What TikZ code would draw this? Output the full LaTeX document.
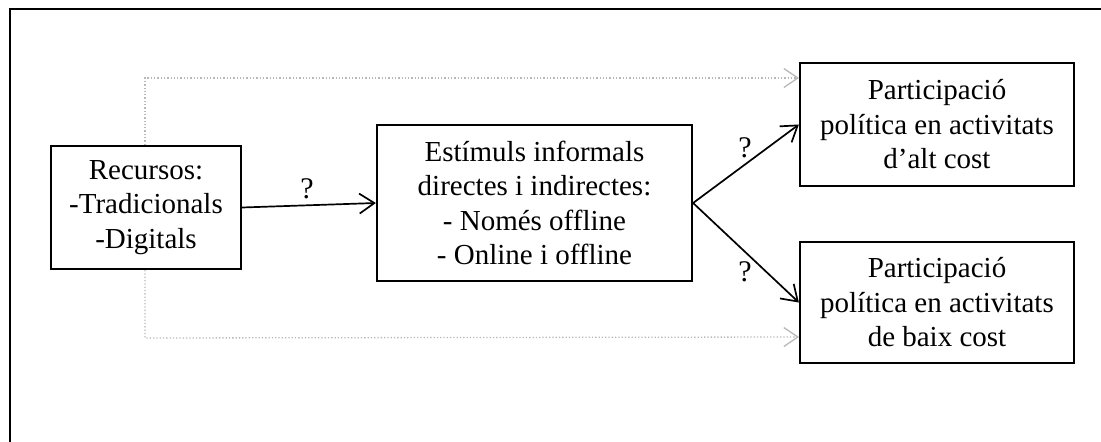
\documentclass[tikz,border=0pt]{standalone}
\usepackage{fontspec}
\setmainfont{Liberation Serif}
\usetikzlibrary{arrows.meta}
\begin{document}
\begin{tikzpicture}[x=1pt,y=-1pt,
  box/.style={draw=black,line width=2.2pt,inner sep=0pt,align=center,
    font=\fontsize{29}{34.5}\selectfont},
  lbl/.style={font=\fontsize{30}{34}\selectfont,inner sep=0pt},
  arr/.style={line width=1.7pt,-{Straight Barb[length=15pt,width=20pt,line width=1.7pt]}},
  gray arr/.style={draw=black!28,line width=1.3pt,dotted,
    -{Straight Barb[length=14pt,width=19pt,line width=1.3pt,sep=0pt]}}
]
\useasboundingbox (0,0) rectangle (1101,442);
\coordinate (fbl) at (10,443);
\coordinate (ftl) at (10,9);
\coordinate (ftr) at (1102,9);
\draw[line width=2.4pt] (fbl) -- (ftl) -- (ftr);

\node[box,minimum width=190pt,minimum height=123pt] (rec) at (146,207.5)
  {Recursos:\\-Tradicionals\\-Digitals};
\node[box,minimum width=315pt,minimum height=156pt] (est) at (534.5,203)
  {Estímuls informals\\directes i indirectes:\\- Només offline\\- Online i offline};
\node[box,minimum width=274pt,minimum height=123pt] (alt) at (937,124.5)
  {Participació\\política en activitats\\d’alt cost};
\node[box,minimum width=274pt,minimum height=121pt] (baix) at (937,302.5)
  {Participació\\política en activitats\\de baix cost};

\coordinate (gtl) at (145,78);
\coordinate (gbl) at (145,338);
\coordinate (gte) at (799,78);
\coordinate (gbe) at (799,337);
\draw[gray arr] (rec.north -| gtl) -- (gtl) -- (gte);
\draw[gray arr] (rec.south -| gbl) -- (gbl) -- (gbe);

\draw[arr] (rec.east) -- (est.west);
\draw[arr] (est.east) -- (alt.west);
\draw[arr] (est.east) -- (baix.west);

\node[lbl] (q1) at (307,189) {?};
\node[lbl] (q2) at (745,148) {?};
\node[lbl] (q3) at (745,272) {?};
\end{tikzpicture}
\end{document}
